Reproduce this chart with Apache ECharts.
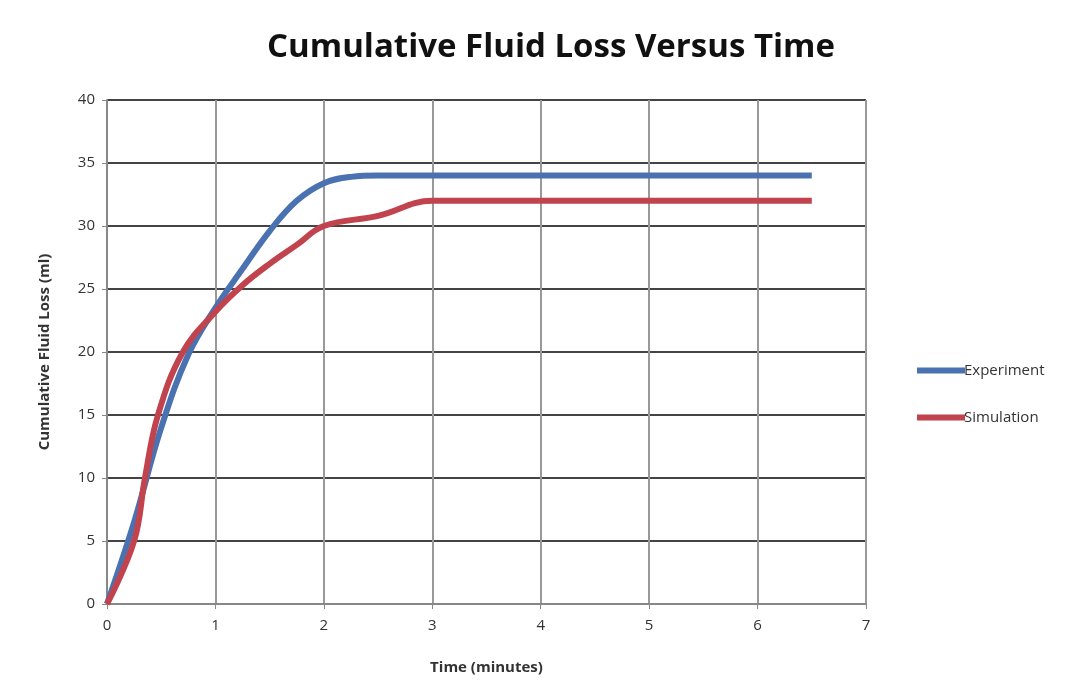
<!DOCTYPE html>
<html><head><meta charset="utf-8">
<script src="https://cdn.jsdelivr.net/npm/echarts@6/dist/echarts.min.js"></script>
<style>html,body{margin:0;padding:0;background:#fff}#c{width:1078px;height:698px}</style>
</head><body><div id="c"></div>
<script>
const expTime = [0, 0.25, 0.5, 0.75, 1, 1.25, 1.5, 1.75, 2, 2.25, 2.5, 3, 3.5, 4, 4.5, 5, 5.5, 6, 6.5];
const expLoss = [0, 6.5, 14, 19.8, 23.5, 26.6, 29.6, 32, 33.4, 33.9, 34, 34, 34, 34, 34, 34, 34, 34, 34];
const simTime = [0, 0.25, 0.35, 0.47, 0.7, 1, 1.25, 1.5, 1.75, 2, 2.5, 3, 3.5, 4, 4.5, 5, 5.5, 6, 6.5];
const simLoss = [0, 5, 10, 15, 20, 23.2, 25.3, 27, 28.5, 30, 30.8, 32, 32, 32, 32, 32, 32, 32, 32];
const seriesNames = ['Experiment', 'Simulation'];
const titleText = 'Cumulative Fluid Loss Versus Time';
const xName = 'Time (minutes)';
const yName = 'Cumulative Fluid Loss (ml)';

const zip = (a, b) => a.map((v, i) => [v, b[i]]);
const chart = echarts.init(document.getElementById('c'));
const font = 'Open Sans';
chart.setOption({
  animation: false,
  title: { text: titleText, left: 546, textAlign: 'center', top: 26,
    textStyle: { fontFamily: font, fontWeight: 'bold', fontSize: 33, color: '#111' } },
  grid: { left: 107, right: 212, top: 100, bottom: 94 },
  legend: { orient: 'vertical', left: 912, top: 358, itemGap: 32, itemWidth: 48, itemHeight: 6,
    icon: 'rect',
    textStyle: { fontFamily: font, fontSize: 15, color: '#333', padding: [0,0,0,-6] },
    data: seriesNames },
  xAxis: { type: 'value', min: 0, max: 7, interval: 1,
    name: xName, nameLocation: 'middle', nameGap: 56,
    nameTextStyle: { fontFamily: font, fontWeight: 'bold', fontSize: 15, color: '#333' },
    axisLine: { show: true, lineStyle: { color: '#888', width: 2 } },
    axisTick: { show: true, length: 5, lineStyle: { color: '#888' } },
    axisLabel: { fontFamily: font, fontSize: 15, color: '#333', margin: 14 },
    splitLine: { show: true, lineStyle: { color: '#999', width: 2 } } },
  yAxis: { type: 'value', min: 0, max: 40, interval: 5,
    name: yName, nameLocation: 'middle', nameGap: 55,
    nameTextStyle: { fontFamily: font, fontWeight: 'bold', fontSize: 15, color: '#333' },
    axisLine: { show: true, lineStyle: { color: '#888', width: 2 } },
    axisTick: { show: true, length: 5, lineStyle: { color: '#888' } },
    axisLabel: { fontFamily: font, fontSize: 15, color: '#333', margin: 12 },
    splitLine: { show: true, lineStyle: { color: '#444', width: 2 } } },
  series: [
    { name: seriesNames[0], type: 'line', data: zip(expTime, expLoss), smooth: 0.4, showSymbol: false,
      itemStyle: { color: '#4A72B0' }, lineStyle: { color: '#4A72B0', width: 6 } },
    { name: seriesNames[1], type: 'line', data: zip(simTime, simLoss), smooth: 0.4, showSymbol: false,
      itemStyle: { color: '#C0434D' }, lineStyle: { color: '#C0434D', width: 6 } }
  ]
});
</script></body></html>
